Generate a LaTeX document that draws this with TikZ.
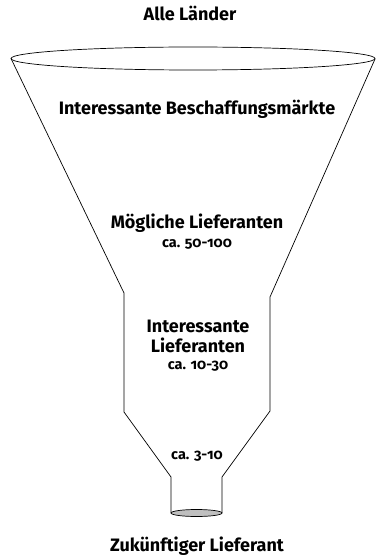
\documentclass[tikz,border=0pt]{standalone}
\usepackage{fontspec}
\setmainfont{Fira Sans}[Numbers=OldStyle]
\usetikzlibrary{positioning}

\begin{document}
\begin{tikzpicture}[x=1pt,y=-1pt,line width=0.7pt,node distance=20pt,on grid,
  title/.style={font=\bfseries\fontsize{18}{20}\selectfont,inner sep=0pt,anchor=base},
  count/.style={font=\bfseries\fontsize{14.5}{16}\selectfont,inner sep=0pt,anchor=base}]
  \useasboundingbox (0,0) rectangle (376,556);
  % funnel
  \draw (11,58.5) -- (124,293) -- (124,412) -- (171,477) -- (171,513)
        (375,59) -- (270,297) -- (270,411) -- (222,477) -- (222,513);
  \draw (193,58.5) ellipse (182 and 11.5);
  \draw[fill=gray!50] (196.5,513) ellipse (25.5 and 3.5);
  % labels
  \node[title] (all)      at (190,21)  {Alle Länder};
  \node[title] (markets)  at (197,115) {Interessante Beschaffungsmärkte};
  \node[title] (possible) at (197,228) {Mögliche Lieferanten};
  \node[count] (possnum)  [below=19pt of possible.base,anchor=base] {ca. 50-100};
  \node[title] (inter)    at (198,332) {Interessante};
  \node[title] (interl)   [below=of inter.base,anchor=base] {Lieferanten};
  \node[count] (internum) [below=17pt of interl.base,anchor=base] {ca. 10-30};
  \node[count] (few)      at (197,459) {ca. 3-10};
  \node[title] (future)   at (197,551) {Zukünftiger Lieferant};
\end{tikzpicture}
\end{document}
